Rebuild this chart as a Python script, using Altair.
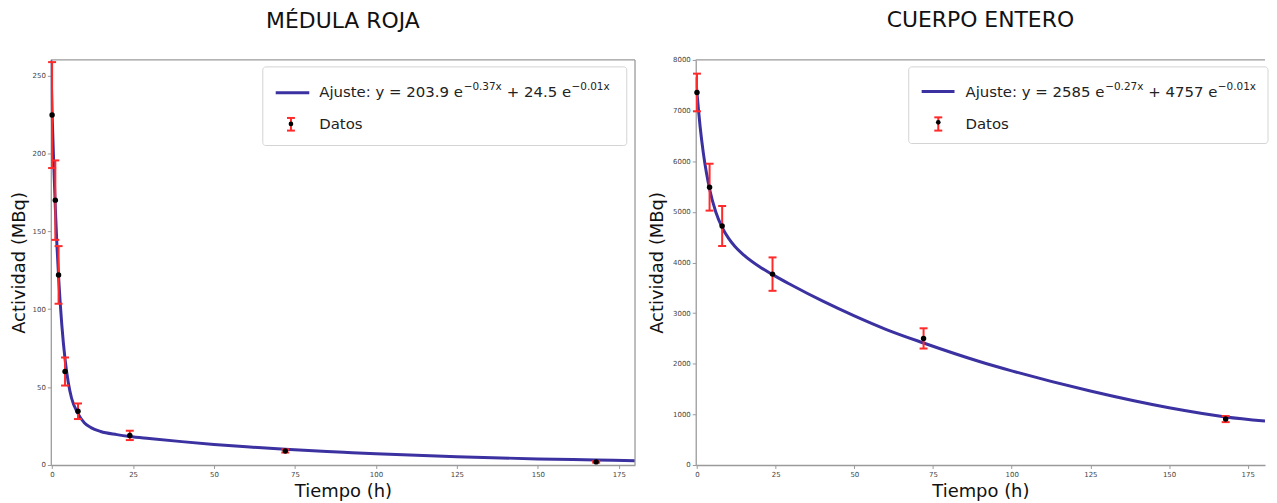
import altair as alt
import pandas as pd

# ---------------- data ----------------
left_title = "MÉDULA ROJA"
right_title = "CUERPO ENTERO"
x_title = "Tiempo (h)"
y_title = "Actividad (MBq)"

x_ticks = [0, 25, 50, 75, 100, 125, 150, 175]
left_y_ticks = [0, 50, 100, 150, 200, 250]
right_y_ticks = [0, 1000, 2000, 3000, 4000, 5000, 6000, 7000, 8000]

left_t = [0, 1, 2, 4, 8, 24, 72, 168]
left_act = [224.6, 170.0, 122.0, 60.0, 34.5, 19.0, 9.0, 2.0]
left_err = [34.0, 25.5, 18.5, 9.0, 5.0, 3.0, 1.0, 0.5]

left_fit_t = [-0.4, 0, 0.5, 1, 1.5, 2, 3, 4, 5, 6, 8, 10, 12, 15, 20, 24, 30, 40,
              50, 60, 72, 90, 100, 125, 150, 168, 180]
left_fit_y = [262, 226, 194, 165, 141, 121, 90, 68, 53, 43, 33, 27, 24, 21.5, 19.5,
              18.3, 17, 15, 13.2, 11.7, 10.1, 8.2, 7.2, 5.3, 3.9, 3.2, 2.7]

right_t = [0, 4, 8, 24, 72, 168]
right_act = [7357, 5487, 4720, 3770, 2500, 907]
right_err = [372, 463, 395, 330, 200, 60]

right_fit_t = [-0.4, 0, 0.5, 1, 2, 3, 4, 6, 8, 10, 12, 15, 20, 24, 30, 40, 50, 60,
               72, 90, 100, 125, 150, 168, 180.5]
right_fit_y = [7660, 7350, 7000, 6680, 6170, 5770, 5450, 4990, 4690, 4480, 4320, 4140,
               3910, 3760, 3555, 3235, 2945, 2680, 2410, 2040, 1860, 1460, 1130, 950, 870]

left_legend = ["Ajuste: y = 203.9 e", "\u22120.37x", "+ 24.5 e", "\u22120.01x", "Datos"]
right_legend = ["Ajuste: y = 2585 e", "\u22120.27x", "+ 4757 e", "\u22120.01x", "Datos"]

# ---------------- styles ----------------
BLUE = "#3b31a0"
RED = "#ff2a2a"
SPINE = "#9a9a9a"
FONT = "DejaVu Sans"
TXT = "#222222"


def pts_frame(t, a, e):
    return pd.DataFrame({"t": t, "act": a,
                         "lo": [v - d for v, d in zip(a, e)],
                         "hi": [v + d for v, d in zip(a, e)]})


one = pd.DataFrame({"k": [0]})


def panel(title, title_y, pts, fit, xdom, ydom, yticks, W, H, legend, L, ytp, right_spine):
    xs = alt.Scale(domain=xdom, nice=False, zero=False)
    ys = alt.Scale(domain=ydom, nice=False, zero=False)
    xa = alt.Axis(values=x_ticks, title=x_title, format="d")
    ya = alt.Axis(values=yticks, title=y_title, format="d", titlePadding=ytp)

    line = alt.Chart(fit).mark_line(color=BLUE, strokeWidth=3, clip=True,
                                    interpolate="monotone").encode(
        x=alt.X("t:Q", scale=xs, axis=xa),
        y=alt.Y("y:Q", scale=ys, axis=ya))
    bars = alt.Chart(pts).mark_rule(color=RED, strokeWidth=2).encode(
        x="t:Q", y="lo:Q", y2="hi:Q")
    cap_hi = alt.Chart(pts).mark_tick(color=RED, orient="horizontal", size=8,
                                      thickness=2, opacity=1).encode(x="t:Q", y="hi:Q")
    cap_lo = alt.Chart(pts).mark_tick(color=RED, orient="horizontal", size=8,
                                      thickness=2, opacity=1).encode(x="t:Q", y="lo:Q")
    dots = alt.Chart(pts).mark_circle(color="black", size=30, opacity=1).encode(
        x="t:Q", y="act:Q")

    layers = [line, bars, cap_hi, cap_lo, dots]

    # spines (top, and right where visible)
    layers.append(alt.Chart(one).mark_rule(color=SPINE, strokeWidth=1.3).encode(
        x=alt.value(0), x2=alt.value(W), y=alt.value(0)))
    if right_spine:
        layers.append(alt.Chart(one).mark_rule(color=SPINE, strokeWidth=1.3).encode(
            x=alt.value(W), y=alt.value(0), y2=alt.value(H)))

    # legend box
    layers.append(alt.Chart(one).mark_rect(fill="white", stroke="#d4d4d4", strokeWidth=1,
                                           cornerRadius=3).encode(
        x=alt.value(L["box"][0]), x2=alt.value(L["box"][1]),
        y=alt.value(L["box"][2]), y2=alt.value(L["box"][3])))
    # legend line symbol
    layers.append(alt.Chart(one).mark_rule(color=BLUE, strokeWidth=3).encode(
        x=alt.value(L["line"][0]), x2=alt.value(L["line"][1]), y=alt.value(L["line"][2])))
    # legend errorbar symbol
    ex, ey0, ey1, ed = L["err"]
    layers.append(alt.Chart(one).mark_rule(color=RED, strokeWidth=2).encode(
        x=alt.value(ex), y=alt.value(ey0), y2=alt.value(ey1)))
    for yy in (ey0, ey1):
        layers.append(alt.Chart(one).mark_rule(color=RED, strokeWidth=2).encode(
            x=alt.value(ex - 4), x2=alt.value(ex + 4), y=alt.value(yy)))
    layers.append(alt.Chart(one).mark_circle(color="black", size=22, opacity=1).encode(
        x=alt.value(ex), y=alt.value(ed)))
    # legend text chunks
    for txt, (tx, ty, fs) in zip(legend, L["text"]):
        layers.append(alt.Chart(one).mark_text(text=txt, font=FONT, fontSize=fs,
                                               align="left", baseline="alphabetic",
                                               color=TXT).encode(
            x=alt.value(tx), y=alt.value(ty)))

    # panel title as a text mark above the plot
    layers.append(alt.Chart(one).mark_text(text=title, font=FONT, fontSize=22,
                                           align="center", baseline="middle",
                                           color="#111111").encode(
        x=alt.value(W / 2), y=alt.value(title_y)))

    return alt.layer(*layers).properties(width=W, height=H)


left_L = {
    "box": [213, 578.7, 7, 86],
    "line": [226, 259.7, 33],
    "err": [241.3, 58.3, 71, 64.3],
    "text": [(269.7, 37, 15), (414.8, 30, 10.5), (458.1, 37, 15),
             (523.2, 30, 10.5), (269.7, 69, 15)],
}
right_L = {
    "box": [214, 575, 7, 84],
    "line": [227, 260, 31.7],
    "err": [243.7, 57.7, 71, 62.7],
    "text": [(271, 37.7, 15), (411.4, 30, 10.5), (454.7, 37.7, 15),
             (524.6, 30, 10.5), (271, 69, 15)],
}

left = panel(left_title, -39, pts_frame(left_t, left_act, left_err),
             pd.DataFrame({"t": left_fit_t, "y": left_fit_y}),
             [-0.4, 180], [0, 260], left_y_ticks, 587, 407, left_legend, left_L, 4, True)
right = panel(right_title, -40, pts_frame(right_t, right_act, right_err),
              pd.DataFrame({"t": right_fit_t, "y": right_fit_y}),
              [-0.4, 180.5], [0, 8000], right_y_ticks, 572, 407, right_legend, right_L, 6, False)

chart = alt.hconcat(left, right, spacing=12).properties(
    padding={"left": 2, "top": 0, "right": 0, "bottom": 0}
).configure_view(stroke=None).configure_axis(
    grid=False,
    labelFont=FONT, labelFontSize=7, labelColor="#444444", labelPadding=2,
    tickColor=SPINE, tickSize=3.5, tickWidth=1,
    domainColor=SPINE, domainWidth=1.3,
    titleFont=FONT, titleFontSize=18, titleFontWeight="normal", titleColor="#111111",
).configure_axisX(titlePadding=5)

chart.save("out.html", embed_options={"renderer": "svg", "actions": False})
